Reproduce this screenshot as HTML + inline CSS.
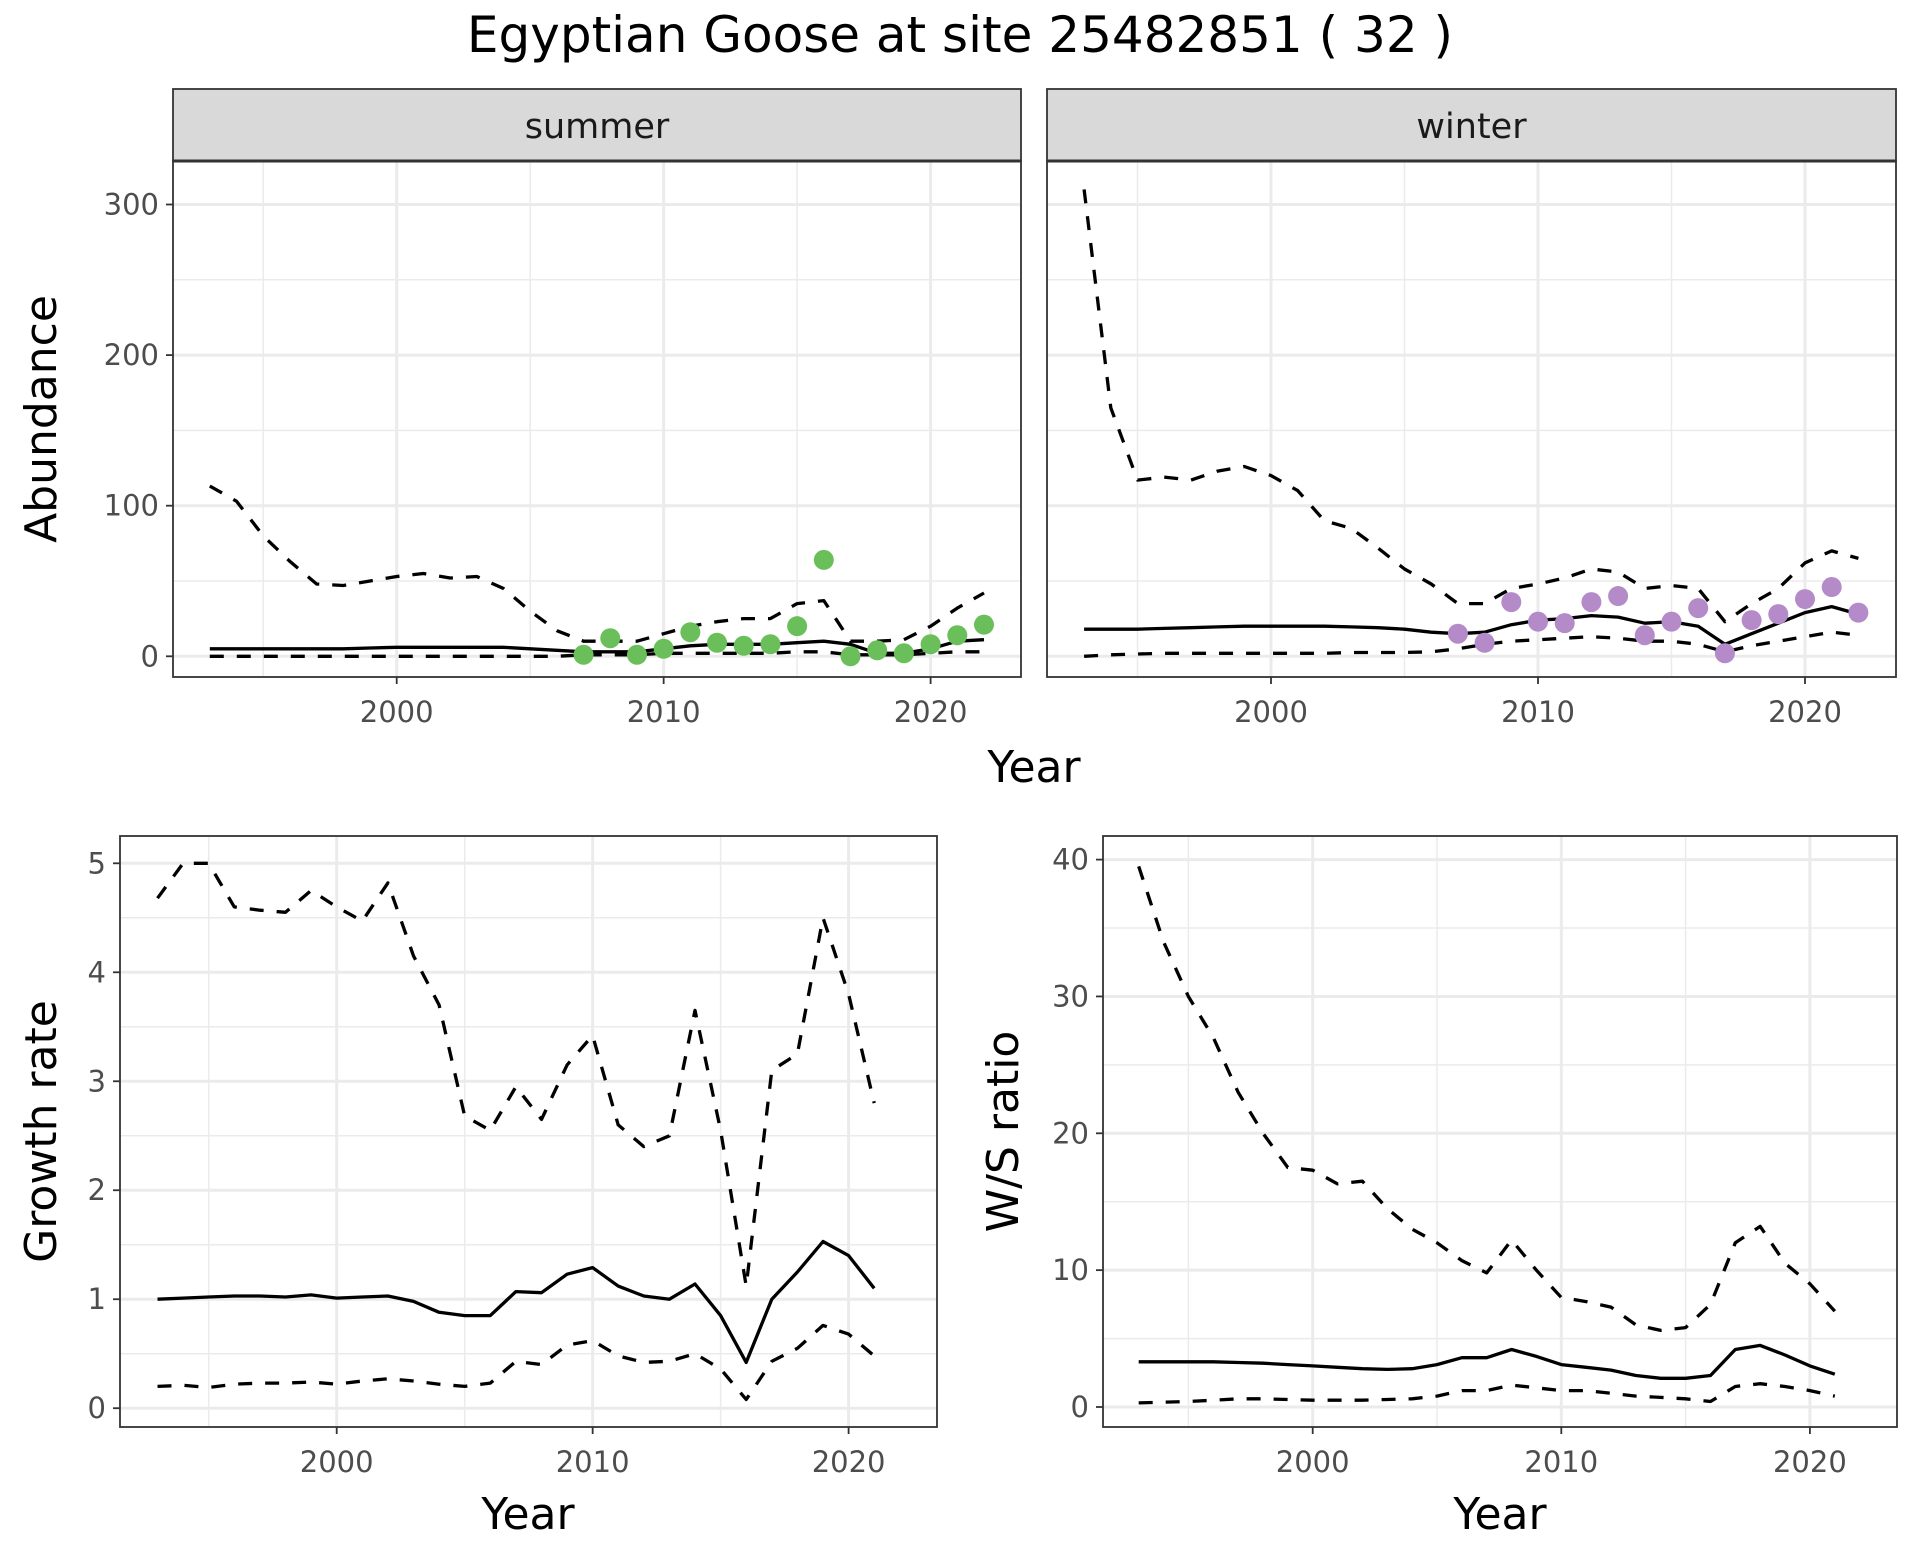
<!DOCTYPE html>
<html><head><meta charset="utf-8"><style>
html,body{margin:0;padding:0;background:#fff;}
svg{display:block;font-family:"DejaVu Sans","Liberation Sans",sans-serif;}
</style></head><body>
<svg id="c" width="1920" height="1560" xmlns="http://www.w3.org/2000/svg">
<text x="960" y="52" text-anchor="middle" font-size="50" fill="#000">Egyptian Goose at site 25482851 ( 32 )</text>
</svg>
<script>
const yearsAb = [1993,1994,1995,1996,1997,1998,1999,2000,2001,2002,2003,2004,2005,2006,2007,2008,2009,2010,2011,2012,2013,2014,2015,2016,2017,2018,2019,2020,2021,2022];
const summerUpper = [113,103,80,63,48,47,50,53,55,52,53,45,30,17,10,10,10,15,20,23,25,25,35,37,10,10,11,20,32,42];
const summerMean = [5,5,5,5,5,5,5.5,6,6,6,6,6,5,4,3,3,3,5,7,8,8,8,9,10,8,2,2,5,10,11];
const summerLower = [0,0,0,0,0,0,0,0,0,0,0,0,0,0,1,1,1,2,2,2,2,2,3,3,1,1,1,2,3,3];
const pointYears = [2007,2008,2009,2010,2011,2012,2013,2014,2015,2016,2017,2018,2019,2020,2021,2022];
const summerPoints = [1,12,1,5,16,9,7,8,20,64,0,4,2,8,14,21];
const winterUpper = [310,165,117,119,117,123,126,120,110,90,85,72,58,48,35,35,45,48,52,58,56,45,47,45,23,35,45,62,70,65];
const winterMean = [18,18,18,18.5,19,19.5,20,20,20,20,19.5,19,18,16,15,16,21,24,25,27,26,22,23,20,8,15,22,29,33,28];
const winterLower = [0,1,1.5,2,2,2,2,2,2,2,2.5,2.5,2.5,3,5,8,10,11,12,13,12,10,10,8,3,7,10,13,16,14];
const winterPoints = [15,9,36,23,22,36,40,14,23,32,2,24,28,38,46,29];
const yearsGr = [1993,1994,1995,1996,1997,1998,1999,2000,2001,2002,2003,2004,2005,2006,2007,2008,2009,2010,2011,2012,2013,2014,2015,2016,2017,2018,2019,2020,2021];
const growthMean = [1.0,1.01,1.02,1.03,1.03,1.02,1.04,1.01,1.02,1.03,0.98,0.88,0.85,0.85,1.07,1.06,1.23,1.29,1.12,1.03,1.00,1.14,0.85,0.42,1.0,1.25,1.53,1.40,1.10];
const growthUpper = [4.68,5.0,5.0,4.6,4.57,4.55,4.75,4.6,4.47,4.82,4.15,3.7,2.68,2.55,2.95,2.65,3.15,3.42,2.6,2.4,2.5,3.65,2.55,1.12,3.1,3.25,4.5,3.8,2.8];
const growthLower = [0.2,0.21,0.19,0.22,0.23,0.23,0.24,0.22,0.25,0.27,0.25,0.22,0.2,0.23,0.43,0.4,0.58,0.62,0.48,0.42,0.43,0.5,0.36,0.08,0.43,0.55,0.76,0.68,0.48];
const wsUpper = [39.5,34,30,27,23,20,17.5,17.3,16.3,16.5,14.5,13,12,10.7,9.8,12.2,10,8,7.7,7.3,6,5.6,5.8,7.5,12,13.2,10.5,9,7];
const wsMean = [3.3,3.3,3.3,3.3,3.25,3.2,3.1,3.0,2.9,2.8,2.75,2.8,3.1,3.6,3.6,4.2,3.7,3.1,2.9,2.7,2.3,2.1,2.1,2.3,4.2,4.5,3.8,3.0,2.4];
const wsLower = [0.3,0.35,0.4,0.5,0.6,0.6,0.55,0.5,0.5,0.5,0.55,0.6,0.8,1.2,1.2,1.6,1.4,1.2,1.2,1.0,0.8,0.7,0.6,0.4,1.5,1.7,1.5,1.2,0.8];
const xTicks = [2000,2010,2020];
const xMinor = [1995,2005,2015];
const abTicks = [0,100,200,300];
const abMinor = [50,150,250];
const grTicks = [0,1,2,3,4,5];
const grMinor = [0.5,1.5,2.5,3.5,4.5];
const wsTicks = [0,10,20,30,40];
const wsMinor = [5,15,25,35];

const NS='http://www.w3.org/2000/svg';
const svg=document.getElementById('c');
function mk(tag,attrs,parent){const e=document.createElementNS(NS,tag);for(const k in attrs)e.setAttribute(k,attrs[k]);(parent||svg).appendChild(e);return e;}

function panel(o){
  const g=mk('g',{});
  
  
  const sx=v=>o.x0px+(v-o.x0v)*(o.x1px-o.x0px)/(o.x1v-o.x0v);
  const sy=v=>o.y0px+(v-o.y0v)*(o.y1px-o.y0px)/(o.y1v-o.y0v);
  mk('rect',{x:o.L,y:o.T,width:o.R-o.L,height:o.B-o.T,fill:'#fff'},g);
  o.yMinor.forEach(v=>{const l=mk('line',{x1:o.L,x2:o.R,y1:sy(v),y2:sy(v),stroke:'#ebebeb','stroke-width':1.5},g);});
  xMinor.forEach(v=>{const l=mk('line',{x1:sx(v),x2:sx(v),y1:o.T,y2:o.B,stroke:'#ebebeb','stroke-width':1.5},g);});
  o.yTicks.forEach(v=>{const l=mk('line',{x1:o.L,x2:o.R,y1:sy(v),y2:sy(v),stroke:'#ebebeb','stroke-width':3},g);});
  xTicks.forEach(v=>{const l=mk('line',{x1:sx(v),x2:sx(v),y1:o.T,y2:o.B,stroke:'#ebebeb','stroke-width':3},g);});
  const line=(ys,vals,dash,nm)=>{
    const d=vals.map((v,i)=>(i?'L':'M')+sx(ys[i]).toFixed(1)+','+sy(v).toFixed(1)).join(' ');
    const p=mk('path',{d:d,fill:'none',stroke:'#000','stroke-width':3.3,'stroke-linejoin':'round'},g);
    if(dash)p.setAttribute('stroke-dasharray','14,13');
    
    
  };
  line(o.years,o.upper,true,'upper-bound-line');
  line(o.years,o.lower,true,'lower-bound-line');
  line(o.years,o.mean,false,'mean-line');
  if(o.pts){o.pts.forEach((v,i)=>{const c=mk('circle',{cx:sx(pointYears[i]),cy:sy(v),r:10,fill:o.ptColor},g);});}
  mk('rect',{x:o.L,y:o.T,width:o.R-o.L,height:o.B-o.T,fill:'none',stroke:'#333','stroke-width':1.8},g);
  if(o.yLabels){o.yTicks.forEach(v=>{mk('line',{x1:o.L-7,x2:o.L,y1:sy(v),y2:sy(v),stroke:'#333','stroke-width':1.8},g);
    const t=mk('text',{x:o.L-14,y:sy(v)+10,'text-anchor':'end','font-size':29,fill:'#4d4d4d'},g);t.textContent=v;});}
  xTicks.forEach(v=>{mk('line',{x1:sx(v),x2:sx(v),y1:o.B,y2:o.B+7,stroke:'#333','stroke-width':1.8},g);
    const t=mk('text',{x:sx(v),y:o.B+45,'text-anchor':'middle','font-size':29,fill:'#4d4d4d'},g);t.textContent=v;});
  if(o.strip){const s=mk('rect',{x:o.L,y:89,width:o.R-o.L,height:o.T-89,fill:'#d9d9d9',stroke:'#333','stroke-width':1.8},g);
    mk('line',{x1:o.L,x2:o.R,y1:o.T,y2:o.T,stroke:'#333','stroke-width':3},g);
    const t=mk('text',{x:(o.L+o.R)/2,y:138,'text-anchor':'middle','font-size':35,fill:'#1a1a1a'},g);t.textContent=o.strip;}
  if(o.ytitle){const t=mk('text',{x:0,y:0,'text-anchor':'middle','font-size':44,fill:'#000',transform:`translate(${o.ytx},${(o.T+o.B)/2}) rotate(-90)`},g);t.textContent=o.ytitle;}
  if(o.xtitle){const t=mk('text',{x:o.xtx,y:o.xty,'text-anchor':'middle','font-size':44,fill:'#000'},g);t.textContent='Year';}
}
panel({name:'summer-panel',L:173,R:1021,T:161,B:677,x0v:2000,x1v:2020,x0px:396.7,x1px:930.6,y0v:0,y1v:300,y0px:656.3,y1px:204.5,
  years:yearsAb,upper:summerUpper,mean:summerMean,lower:summerLower,pts:summerPoints,ptColor:'#6abf5a',yTicks:abTicks,yMinor:abMinor,yLabels:true,strip:'summer',ytitle:'Abundance',ytx:56,xtitle:true,xtx:1034,xty:782});
panel({name:'winter-panel',L:1047,R:1896,T:161,B:677,x0v:2000,x1v:2020,x0px:1271,x1px:1805,y0v:0,y1v:300,y0px:656.3,y1px:204.5,
  years:yearsAb,upper:winterUpper,mean:winterMean,lower:winterLower,pts:winterPoints,ptColor:'#b48bc8',yTicks:abTicks,yMinor:abMinor,yLabels:false,strip:'winter'});
panel({name:'growth-rate-panel',L:120,R:937,T:836,B:1427,x0v:2000,x1v:2020,x0px:336.7,x1px:848.6,y0v:0,y1v:5,y0px:1408.2,y1px:863.3,
  years:yearsGr,upper:growthUpper,mean:growthMean,lower:growthLower,yTicks:grTicks,yMinor:grMinor,yLabels:true,ytitle:'Growth rate',ytx:56,xtitle:true,xtx:528,xty:1529});
panel({name:'ws-ratio-panel',L:1103,R:1897,T:836,B:1427,x0v:2000,x1v:2020,x0px:1312.7,x1px:1809.9,y0v:0,y1v:40,y0px:1407,y1px:859.6,
  years:yearsGr,upper:wsUpper,mean:wsMean,lower:wsLower,yTicks:wsTicks,yMinor:wsMinor,yLabels:true,ytitle:'W/S ratio',ytx:1018,xtitle:true,xtx:1500,xty:1529});
</script>
</body></html>
